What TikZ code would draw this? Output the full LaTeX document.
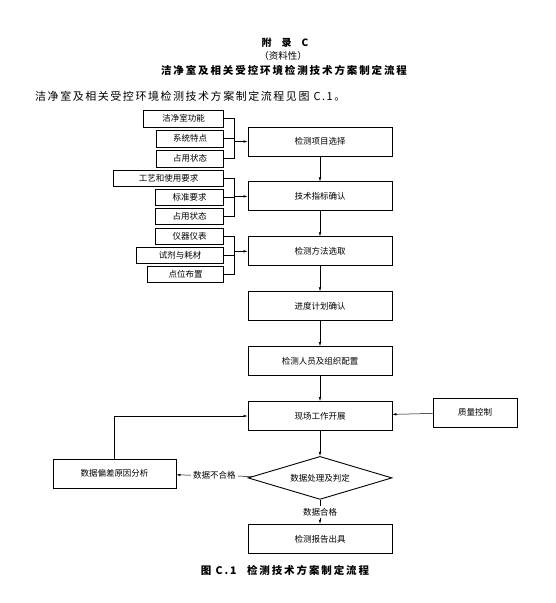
\documentclass[tikz,border=0pt]{standalone}
\usepackage{fontspec}
\setmainfont{Noto Sans CJK SC}
\newfontfamily\spacedfont[LetterSpace=18]{Noto Sans CJK SC}
\newfontfamily\bodyfont[LetterSpace=14]{Noto Sans CJK SC}
\usetikzlibrary{arrows.meta, positioning, shapes.geometric}

\begin{document}
\begin{tikzpicture}[
      x=1pt, y=-1pt,
      >={Latex[length=4pt,width=2.6pt]},
      node distance=25pt,
      block/.style={
        rectangle, draw, line width=0.9pt, align=center,
        minimum width=144pt, minimum height=29pt, font=\fontsize{8.5}{10}\selectfont
      },
      inbox/.style={
        rectangle, draw, line width=0.9pt, anchor=east, inner sep=1pt,
        minimum height=17pt, font=\fontsize{8.5}{10}\selectfont
      },
      decide/.style={
        diamond, draw, line width=0.9pt, aspect=3.35, inner sep=0pt,
        minimum width=144pt, minimum height=43pt, font=\fontsize{8.5}{10}\selectfont
      },
      flow/.style={->, line width=0.5pt},
      link/.style={line width=0.5pt},
      tag/.style={fill=white, inner sep=2pt, font=\fontsize{8.5}{10}\selectfont}
    ]
    \useasboundingbox (0,0) rectangle (555,603);

    % headings
    \node[font=\fontsize{10}{12}\selectfont\bfseries] (appx) at (285,43) {附\quad 录\quad C};
    \node[font=\fontsize{9.5}{11}\selectfont] (kind) at (283,56) {（资料性）};
    \node[font=\fontsize{10.5}{12}\selectfont\spacedfont\bfseries] (title) at (284,70) {洁净室及相关受控环境检测技术方案制定流程};
    \node[anchor=west, inner sep=0pt, font=\fontsize{11}{13}\selectfont\bodyfont] (intro) at (35,96) {洁净室及相关受控环境检测技术方案制定流程见图 C.1。};

    % main chain
    \node[block] (proj) at (320,141.5) {检测项目选择};
    \node[block, below=of proj]   (index)  {技术指标确认};
    \node[block, below=of index]  (method) {检测方法选取};
    \node[block, below=of method] (plan)   {进度计划确认};
    \node[block, below=of plan]   (staff)  {检测人员及组织配置};
    \node[block, below=of staff]  (site)   {现场工作开展};
    \node[decide, below=of site]  (judge)  {数据处理及判定};
    \node[block, below=24pt of judge] (report) {检测报告出具};

    \node[block, minimum width=84pt] (qc) at (475,412.5) {质量控制};
    \node[block, minimum width=123pt] (cause) at (114.5,473.5) {数据偏差原因分析};

    % inputs
    \node[inbox, minimum width=80pt]  (top1) at (224,118.5) {洁净室功能};
    \node[inbox, minimum width=67pt]  (mid1) at (224,138.5) {系统特点};
    \node[inbox, minimum width=67pt]  (bot1) at (224,158.5) {占用状态};
    \node[inbox, minimum width=110pt, minimum height=16pt] (top2) at (224,178) {工艺和使用要求};
    \node[inbox, minimum width=68pt, minimum height=16pt]  (mid2) at (224,197.5) {标准要求};
    \node[inbox, minimum width=68pt, minimum height=16pt]  (bot2) at (224,216.5) {占用状态};
    \node[inbox, minimum width=68pt, minimum height=16pt]  (top3) at (224,236) {仪器仪表};
    \node[inbox, minimum width=87pt, minimum height=16pt]  (mid3) at (224,255) {试剂与耗材};
    \node[inbox, minimum width=76pt, minimum height=16pt]  (bot3) at (224,274) {点位布置};

    \foreach \g/\t in {1/proj, 2/index, 3/method} {
      \path (\t.west) ++(-13pt,0) coordinate (j\g);
      \draw[link] (top\g.east) -| (j\g);
      \draw[link] (bot\g.east) -| (j\g);
      \draw[link] (mid\g.east) -- (mid\g.east -| j\g);
      \draw[flow] (j\g) -- (\t);
    }

    \foreach \a/\b in {proj/index, index/method, method/plan, plan/staff, staff/site, site/judge}
      \draw[flow] (\a) -- (\b);

    \draw[flow] (qc) -- (site);
    \draw[flow] (judge) -- node[tag] {数据不合格} (cause);
    \draw[flow] (judge) -- node[tag] {数据合格} (report);
    \draw[flow] (cause.north) |- (site.west);

    % caption
    \node[font=\fontsize{10.5}{12}\selectfont\spacedfont\bfseries] (cap) at (285,570) {图 C.1\quad 检测技术方案制定流程};
  \end{tikzpicture}
\end{document}
